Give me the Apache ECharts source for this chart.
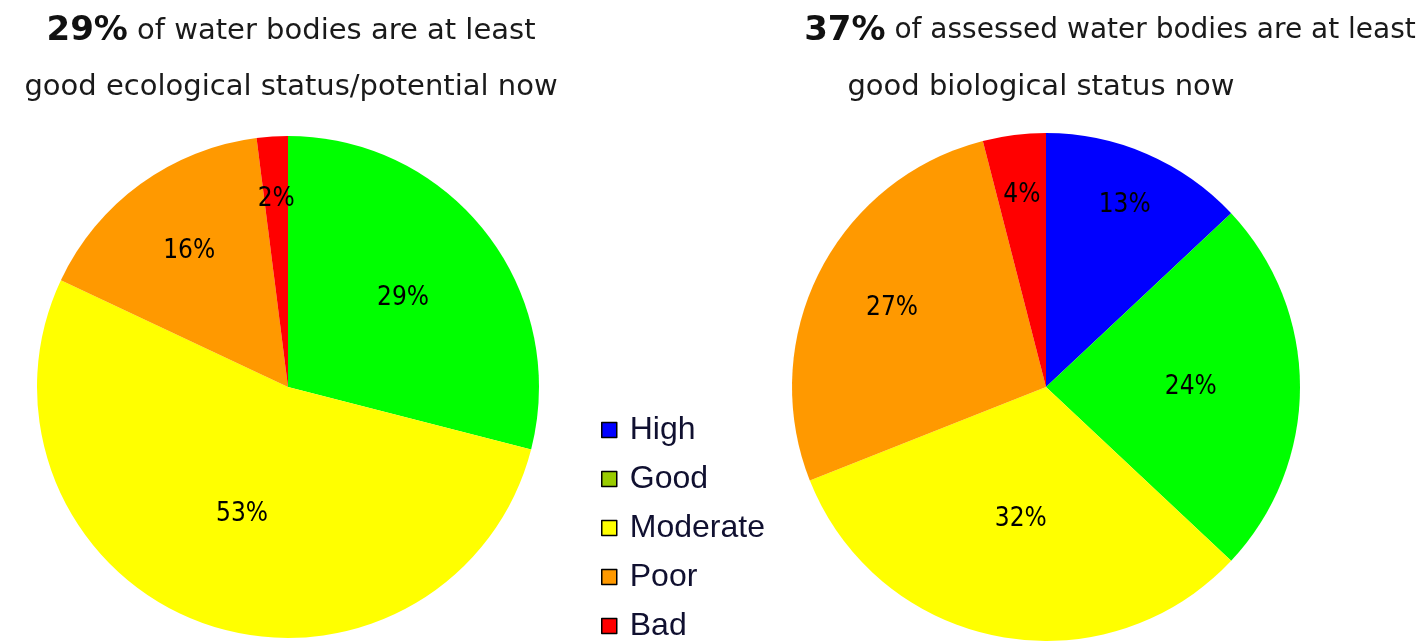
<!DOCTYPE html>
<html>
<head>
<meta charset="utf-8">
<script src="https://cdn.jsdelivr.net/npm/echarts@6/dist/echarts.min.js"></script>
<style>
  html, body { margin: 0; padding: 0; background: #fff; }
  #chart { width: 1422px; height: 641px; }
</style>
</head>
<body>
<div id="chart"></div>
<script>
// status classes and colours
const statusNames = ['High', 'Good', 'Moderate', 'Poor', 'Bad'];
const statusColors = ['#0000ff', '#00ff00', '#ffff00', '#ff9900', '#ff0000'];
const legendColors = ['#0000ff', '#99cc00', '#ffff00', '#ff9900', '#ff0000'];

// left pie: ecological status (no High class)
const ecoNames = ['Good', 'Moderate', 'Poor', 'Bad'];
const ecoValues = [29, 53, 16, 2];
// right pie: biological status
const bioNames = ['High', 'Good', 'Moderate', 'Poor', 'Bad'];
const bioValues = [13, 24, 32, 27, 4];

// label distance from centre as share of radius (style only)
const ecoLabelDist = [0.58, 0.54, 0.67, 0.75];
const bioLabelDist = [0.78, 0.57, 0.53, 0.68, 0.76];

const pies = [
    { cx: 288, cy: 387, r: 251, names: ecoNames, values: ecoValues, dist: ecoLabelDist },
    { cx: 1046, cy: 387, r: 254, names: bioNames, values: bioValues, dist: bioLabelDist }
];

const chart = echarts.init(document.getElementById('chart'), null, { renderer: 'canvas' });

const colorOf = name => statusColors[statusNames.indexOf(name)];

const labelPos = (p, i) => {
    const total = p.values.reduce((a, b) => a + b, 0);
    let before = 0;
    for (let k = 0; k < i; k++) before += p.values[k];
    const mid = (before + p.values[i] / 2) / total * Math.PI * 2;
    return {
        x: p.cx + p.dist[i] * p.r * Math.sin(mid),
        y: p.cy - p.dist[i] * p.r * Math.cos(mid)
    };
};

const series = pies.map((p, s) => ({
    type: 'pie',
    center: [p.cx, p.cy],
    radius: [0, p.r],
    startAngle: 90,
    clockwise: true,
    animation: false,
    silent: true,
    avoidLabelOverlap: false,
    itemStyle: { borderWidth: 0 },
    label: {
        show: true,
        position: 'inside',
        formatter: '{c}%',
        color: '#000',
        fontFamily: '"DejaVu Sans Condensed", "DejaVu Sans"',
        fontSize: 26
    },
    labelLine: { show: false },
    labelLayout: params => {
        const pos = labelPos(p, params.dataIndex);
        return { x: pos.x, y: pos.y, align: 'center', verticalAlign: 'middle' };
    },
    data: p.names.map((n, i) => ({
        name: n,
        value: p.values[i],
        itemStyle: { color: colorOf(n) }
    }))
}));

const titleStyle = {
    fontFamily: 'DejaVu Sans',
    fontSize: 29,
    fontWeight: 'normal',
    color: '#1a1a1a'
};
const bigStyle = {
    fontFamily: 'DejaVu Sans',
    fontSize: 34,
    fontWeight: 'bold',
    color: '#111'
};

const option = {
    backgroundColor: '#fff',
    title: [
        { text: '{b|29%} of water bodies are at least', left: 286, top: 9, textAlign: 'center',
          textStyle: { ...titleStyle, rich: { b: bigStyle } } },
        { text: 'good ecological status/potential now', left: 286, top: 68, textAlign: 'center',
          textStyle: titleStyle },
        { text: '{b|37%} of assessed water bodies are at least', left: 1105, top: 9, textAlign: 'center',
          textStyle: { ...titleStyle, fontSize: 28, rich: { b: bigStyle } } },
        { text: 'good biological status now', left: 1036, top: 68, textAlign: 'center',
          textStyle: titleStyle }
    ],
    legend: {
        orient: 'vertical',
        left: 596,
        top: 409,
        height: 320,
        itemWidth: 15,
        itemHeight: 15,
        itemGap: 17,
        icon: 'rect',
        selectedMode: false,
        itemStyle: { borderColor: '#000', borderWidth: 1.5 },
        textStyle: {
            fontFamily: 'Liberation Sans',
            fontSize: 32,
            lineHeight: 32,
            color: '#101030',
            padding: [0, 0, 0, 8]
        },
        data: statusNames.map((n, i) => ({ name: n, itemStyle: { color: legendColors[i] } }))
    },
    series: series
};

chart.setOption(option);
</script>
</body>
</html>
